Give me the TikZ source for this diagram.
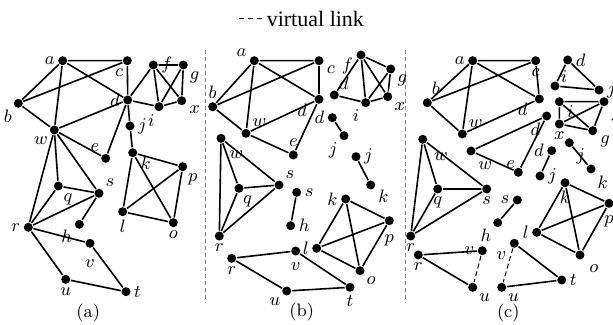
\documentclass[tikz,border=0pt]{standalone}
\usepackage{fontspec}
\newfontfamily\legfont{Liberation Serif}

\begin{document}
\begin{tikzpicture}[x=0.5pt,y=-0.5pt,line width=0.8pt,
  v/.style={circle,fill,inner sep=0pt,minimum size=4.5pt},
  every label/.style={inner sep=1pt,font=\small},
  subcap/.style={font=\small},
  vlink/.style={dashed,line width=0.5pt,dash pattern=on 2.5pt off 1.5pt},
  sepline/.style={gray,line width=0.4pt,dash pattern=on 2pt off 1.5pt}]
  \useasboundingbox (0,0) rectangle (613,325);
  % legend
  \coordinate (lg1) at (239,19);
  \coordinate (lg2) at (264,19);
  \draw[vlink,dash pattern=on 2.5pt off 2pt] (lg1) -- (lg2);
  \node[right,inner sep=1pt,font=\fontsize{11}{13}\legfont] (legend) at (lg2) {virtual link};
  % separators
  \draw[sepline] (205,50) -- (205,303);
  \draw[sepline] (405,50) -- (405,303);

  % (a)
  \node[v,label=left:$a$] (a1) at (62.7,60.7) {};
  \node[v,label=-105:$c$] (c1) at (127.3,60.7) {};
  \node[v,label=below left:$b$] (b1) at (18.3,103.3) {};
  \node[v,label=left:$d$] (d1) at (127.7,100) {};
  \node[v,label=right:$f$] (f1) at (153.3,65) {};
  \node[v,label=below right:$g$] (g1) at (183.3,65) {};
  \node[v,label=-20:$x$] (x1) at (181.7,100.7) {};
  \node[v,label=-110:$i$] (i1) at (159,106.7) {};
  \node[v,label=right:$j$] (j1) at (130,126) {};
  \node[v,label=below left:$w$] (w1) at (54.3,130) {};
  \node[v,label=above left:$e$] (e1) at (105.7,158.3) {};
  \node[v,label=-15:$k$] (k1) at (132.7,152.7) {};
  \node[v,label=-60:$p$] (p1) at (182.7,166.7) {};
  \node[v,label=-62:$q$] (q1) at (58.3,186) {};
  \node[v,label=above right:$s$] (s1) at (99,193.3) {};
  \node[v,label=left:$r$] (r1) at (28.3,227.3) {};
  \node[v,label=210:$h$] (h1) at (79.3,224.3) {};
  \node[v,label=below:$l$] (l1) at (122.7,211.7) {};
  \node[v,label=below:$o$] (o1) at (173.3,222.7) {};
  \node[v,label={[label distance=4pt]below:$v$}] (v1) at (90,243.3) {};
  \node[v,label=below:$u$] (u1) at (65.7,279.3) {};
  \node[v,label=right:$t$] (t1) at (126,291.7) {};
  \draw (a1) -- (c1) -- (d1) -- (a1) -- (b1) -- (c1);
  \draw (b1) -- (w1) -- (a1);
  \draw (w1) -- (d1) -- (e1) -- (w1);
  \draw (d1) -- (f1) -- (g1) -- (x1) -- (i1) -- (d1) -- (j1) -- (k1);
  \draw (f1) -- (i1) -- (g1);
  \draw (f1) -- (x1);
  \draw (w1) -- (r1);
  \draw (w1) -- (q1);
  \draw (w1) -- (s1);
  \draw (q1) -- (s1) -- (r1) -- (q1);
  \draw (s1) -- (h1);
  \draw (r1) -- (v1) -- (t1) -- (u1) -- (r1);
  \draw (k1) -- (p1) -- (o1) -- (l1) -- (k1) -- (o1);
  \draw (l1) -- (p1);
  \node[subcap] (capa) at (88.3,313.3) {(a)};

  % (b)
  \node[v,label=165:$a$] (a2) at (254.3,60.7) {};
  \node[v,label=-20:$c$] (c2) at (319,60.7) {};
  \node[v,label=above:$b$] (b2) at (212.7,106.7) {};
  \node[v,label={[label distance=2pt]190:$d$}] (d2) at (319,99.3) {};
  \node[v,label=above right:$w$] (w2) at (246,133.3) {};
  \node[v,label=above:$e$] (e2) at (293.3,155) {};
  \node[v,label=185:$f$] (f2) at (361,55) {};
  \node[v,label=-40:$g$] (g2) at (390.7,69) {};
  \node[v,label={[label distance=-1pt]55:$d$}] (df2) at (334.3,95) {};
  \node[v,label=below left:$i$] (i2) at (365.7,102.7) {};
  \node[v,label=-40:$x$] (x2) at (387.7,96.7) {};
  \node[v,label=left:$d$] (dj2) at (332.3,117.7) {};
  \node[v,label=below left:$j$] (jd2) at (344,135.7) {};
  \node[v,label=right:$j$] (jk2) at (356,156.7) {};
  \node[v,label=-25:$k$] (kj2) at (370.7,185) {};
  \node[v,label={[label distance=3pt]-60:$w$}] (ws2) at (221,138.3) {};
  \node[v,label=above right:$s$] (s2) at (279,185) {};
  \node[v,label=-75:$q$] (q2) at (239,188.3) {};
  \node[v,label=below:$r$] (r2) at (219.3,236) {};
  \node[v,label=right:$s$] (sh2) at (296.7,192.3) {};
  \node[v,label=right:$h$] (h2) at (290.7,225.7) {};
  \node[v,label=left:$k$] (k2) at (345.7,199) {};
  \node[v,label={[label distance=3pt]below:$p$}] (p2) at (389.3,220.7) {};
  \node[v,label=left:$l$] (l2) at (316.7,248.3) {};
  \node[v,label=below right:$o$] (o2) at (360,270.7) {};
  \node[v,label=below:$r$] (rv2) at (231.7,258.3) {};
  \node[v,label={[label distance=2pt]below:$v$}] (v2) at (295.7,251) {};
  \node[v,label=below left:$u$] (u2) at (286.7,291) {};
  \node[v,label=below:$t$] (t2) at (350,287.3) {};
  \draw (a2) -- (c2) -- (d2) -- (a2) -- (b2) -- (c2);
  \draw (b2) -- (w2) -- (a2);
  \draw (w2) -- (d2) -- (e2) -- (w2);
  \draw (f2) -- (g2) -- (x2) -- (i2) -- (df2) -- (f2) -- (i2) -- (g2);
  \draw (f2) -- (x2);
  \draw (dj2) -- (jd2);
  \draw (jk2) -- (kj2);
  \draw (ws2) -- (q2) -- (s2) -- (ws2) -- (r2) -- (q2);
  \draw (r2) -- (s2);
  \draw (sh2) -- (h2);
  \draw (k2) -- (p2) -- (o2) -- (l2) -- (k2) -- (o2);
  \draw (l2) -- (p2);
  \draw (rv2) -- (v2) -- (t2) -- (u2) -- (rv2);
  \node[subcap] (capb) at (301.7,311.7) {(b)};

  % (c)
  \node[v,label=left:$a$] (a3) at (472.7,60.7) {};
  \node[v,label=below:$c$] (c3) at (535.7,60.7) {};
  \node[v,label=70:$b$] (b3) at (427.3,102.7) {};
  \node[v,label={[label distance=2pt]190:$d$}] (d3) at (539.3,99) {};
  \node[v,label=above right:$w$] (w3) at (462.3,134) {};
  \node[v,label=below left:$d$] (de3) at (546.7,116) {};
  \node[v,label={[label distance=2pt]-60:$w$}] (we3) at (471,151) {};
  \node[v,label={[label distance=-2pt]120:$e$}] (e3) at (518.3,172.3) {};
  \node[v,label=right:$d$] (di3) at (567.7,60) {};
  \node[v,label={[label distance=-1pt]20:$i$}] (id3) at (555,86) {};
  \node[v,label=right:$j$] (jd3) at (599,90) {};
  \node[v,label=-15:$i$] (i3) at (559.3,101.7) {};
  \node[v,label=-15:$j$] (j3) at (604,101.7) {};
  \node[v,label=below:$x$] (x3) at (559.3,124) {};
  \node[v,label=-25:$g$] (g3) at (592.7,130.7) {};
  \node[v,label=left:$d$] (dj3) at (551.7,150.7) {};
  \node[v,label=right:$j$] (jd4) at (540,176) {};
  \node[v,label=-35:$j$] (jk3) at (569.3,142.7) {};
  \node[v,label=below right:$k$] (kj3) at (591,169) {};
  \node[v,label={[label distance=4pt]-50:$w$}] (ws3) at (422.7,139.3) {};
  \node[v,label=below:$q$] (q3) at (437.7,189) {};
  \node[v,label=below:$s$] (s3) at (486.7,189) {};
  \node[v,label=below:$r$] (r3) at (410.7,236) {};
  \node[v,label=left:$s$] (sh3) at (517.3,200) {};
  \node[v,label=below left:$h$] (h3) at (497.7,222.7) {};
  \node[v,label=below:$k$] (k3) at (565,182.7) {};
  \node[v,label={[label distance=2pt]below:$p$}] (p3) at (609,203.3) {};
  \node[v,label=left:$l$] (l3) at (536.7,232.3) {};
  \node[v,label={[label distance=2pt]below right:$o$}] (o3) at (580,255) {};
  \node[v,label=below:$r$] (rv3) at (418.3,255) {};
  \node[v,label=left:$v$] (v3) at (482.3,250.7) {};
  \node[v,label=-45:$u$] (u3) at (472.7,287.3) {};
  \node[v,label={[label distance=1pt]below left:$v$}] (vt3) at (514.3,243.3) {};
  \node[v,label=-45:$u$] (ut3) at (501.7,287.3) {};
  \node[v,label=right:$t$] (t3) at (561.7,280) {};
  \draw (a3) -- (c3) -- (d3) -- (a3) -- (b3) -- (c3);
  \draw (b3) -- (w3) -- (a3);
  \draw (w3) -- (d3);
  \draw (de3) -- (we3) -- (e3) -- (de3);
  \draw (di3) -- (id3) -- (jd3) -- (di3);
  \draw (i3) -- (j3) -- (g3) -- (x3) -- (i3) -- (g3);
  \draw (x3) -- (j3);
  \draw (dj3) -- (jd4);
  \draw (jk3) -- (kj3);
  \draw (ws3) -- (q3) -- (s3) -- (ws3) -- (r3) -- (q3);
  \draw (r3) -- (s3);
  \draw (sh3) -- (h3);
  \draw (k3) -- (p3) -- (o3) -- (l3) -- (k3) -- (o3);
  \draw (l3) -- (p3);
  \draw (rv3) -- (v3);
  \draw (rv3) -- (u3);
  \draw[vlink] (v3) -- (u3);
  \draw (vt3) -- (t3) -- (ut3);
  \draw[vlink] (vt3) -- (ut3);
  \node[subcap] (capc) at (508.3,313) {(c)};
\end{tikzpicture}
\end{document}
